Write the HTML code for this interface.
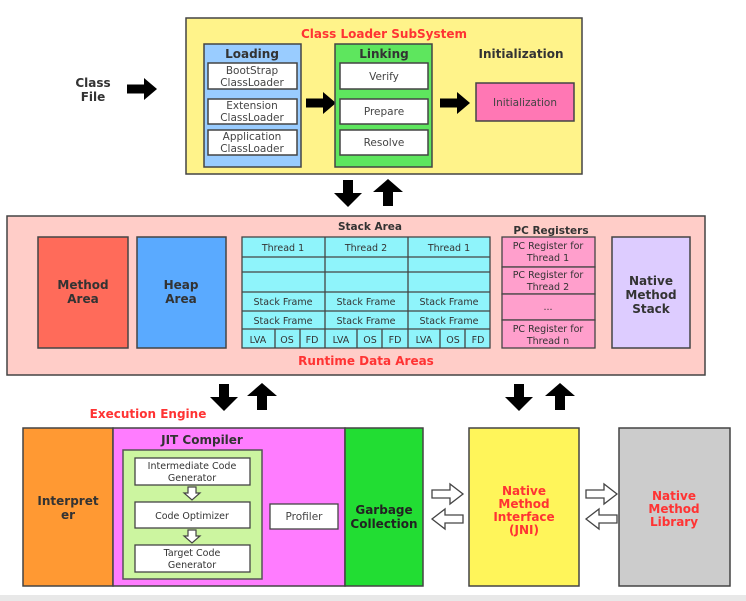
<!DOCTYPE html>
<html><head><meta charset="utf-8"><style>
html,body{margin:0;padding:0;background:#fff;width:746px;height:601px;overflow:hidden}
svg{display:block}
text{font-family:"DejaVu Sans","Liberation Sans",sans-serif;text-anchor:middle}
.b{font-weight:bold;font-size:12px;fill:#333}
.r{font-weight:bold;font-size:12px;fill:#f33}
.n{font-size:10.5px;fill:#444}
.s{font-size:9.5px;fill:#333}
</style></head><body>
<svg width="746" height="601" viewBox="0 0 746 601" xmlns="http://www.w3.org/2000/svg">
<defs>
<g id="ar"><path d="M0,-4.5 H17 V-11 L30,0 L17,11 V4.5 H0 Z" fill="#000"/></g>
<g id="dn"><path d="M-5,0 H5 V13 H14 L0,27 L-14,13 H-5 Z" fill="#000"/></g>
<g id="up"><path d="M-5,27 H5 V13 H15 L0,0 L-15,13 H-5 Z" fill="#000"/></g>
<g id="hr"><path d="M0,-4 H18 V-10 L31,0 L18,10 V4 H0 Z" fill="#fff" stroke="#444" stroke-width="1.3"/></g>
<g id="hd"><path d="M-4,0 H4 V6 H8 L0,13 L-8,6 H-4 Z" fill="#fff" stroke="#444" stroke-width="1.2"/></g>
</defs>
<rect x="0" y="595" width="746" height="6" fill="#e8e8e8"/>

<text class="b" x="93" y="87">Class</text><text class="b" x="93" y="101">File</text>
<use href="#ar" x="127" y="89"/>
<rect x="186" y="18" width="396" height="156" fill="#fff38a" stroke="#444" stroke-width="1.5"/>
<text class="r" x="384" y="38">Class Loader SubSystem</text>
<rect x="204" y="44" width="97" height="123" fill="#99ccff" stroke="#444" stroke-width="1.5"/>
<text class="b" x="252" y="58">Loading</text>
<rect x="208" y="63" width="89" height="26" fill="#fff" stroke="#444" stroke-width="1.5"/>
<text class="n" x="252" y="74">BootStrap</text><text class="n" x="252" y="86">ClassLoader</text>
<rect x="208" y="99" width="89" height="25" fill="#fff" stroke="#444" stroke-width="1.5"/>
<text class="n" x="252" y="109">Extension</text><text class="n" x="252" y="121">ClassLoader</text>
<rect x="208" y="130" width="89" height="25" fill="#fff" stroke="#444" stroke-width="1.5"/>
<text class="n" x="252" y="140">Application</text><text class="n" x="252" y="152">ClassLoader</text>
<use href="#ar" x="306" y="103"/>
<rect x="335" y="44" width="97" height="123" fill="#5ee65e" stroke="#444" stroke-width="1.5"/>
<text class="b" x="384" y="58">Linking</text>
<rect x="340" y="63" width="88" height="26" fill="#fff" stroke="#444" stroke-width="1.5"/><text class="n" x="384" y="80">Verify</text>
<rect x="340" y="99" width="88" height="25" fill="#fff" stroke="#444" stroke-width="1.5"/><text class="n" x="384" y="115">Prepare</text>
<rect x="340" y="130" width="88" height="25" fill="#fff" stroke="#444" stroke-width="1.5"/><text class="n" x="384" y="146">Resolve</text>
<use href="#ar" x="440" y="103"/>
<text class="b" x="521" y="58">Initialization</text>
<rect x="476" y="83" width="98" height="38" fill="#ff77b4" stroke="#444" stroke-width="1.5"/>
<text class="n" x="525" y="106">Initialization</text>

<use href="#dn" x="348" y="180"/><use href="#up" x="388" y="179"/>

<rect x="7" y="216" width="698" height="159" fill="#ffcdc8" stroke="#444" stroke-width="1.5"/>
<text class="b" x="370" y="230" style="font-size:10.5px">Stack Area</text>
<text class="b" x="551" y="234" style="font-size:10.5px">PC Registers</text>
<rect x="38" y="237" width="90" height="111" fill="#ff6b5a" stroke="#444" stroke-width="1.5"/>
<text class="b" x="83" y="289">Method</text><text class="b" x="83" y="303">Area</text>
<rect x="137" y="237" width="89" height="111" fill="#5aaaff" stroke="#444" stroke-width="1.5"/>
<text class="b" x="181" y="289">Heap</text><text class="b" x="181" y="303">Area</text>
<rect x="242" y="237" width="248" height="111" fill="#8ff4fb" stroke="#444" stroke-width="1.3"/>
<g stroke="#444" stroke-width="1.3">
<line x1="325" y1="237" x2="325" y2="348"/><line x1="408" y1="237" x2="408" y2="348"/>
<line x1="242" y1="257" x2="490" y2="257"/><line x1="242" y1="272" x2="490" y2="272"/>
<line x1="242" y1="292" x2="490" y2="292"/><line x1="242" y1="311" x2="490" y2="311"/>
<line x1="242" y1="329" x2="490" y2="329"/>
<line x1="275" y1="329" x2="275" y2="348"/><line x1="300" y1="329" x2="300" y2="348"/>
<line x1="357" y1="329" x2="357" y2="348"/><line x1="382" y1="329" x2="382" y2="348"/>
<line x1="440" y1="329" x2="440" y2="348"/><line x1="465" y1="329" x2="465" y2="348"/>
</g>
<text class="s" x="283" y="251">Thread 1</text><text class="s" x="366" y="251">Thread 2</text><text class="s" x="449" y="251">Thread 1</text>
<text class="s" x="283" y="305">Stack Frame</text><text class="s" x="366" y="305">Stack Frame</text><text class="s" x="449" y="305">Stack Frame</text>
<text class="s" x="283" y="324">Stack Frame</text><text class="s" x="366" y="324">Stack Frame</text><text class="s" x="449" y="324">Stack Frame</text>
<text class="s" x="258" y="343">LVA</text><text class="s" x="287" y="343">OS</text><text class="s" x="312" y="343">FD</text>
<text class="s" x="341" y="343">LVA</text><text class="s" x="370" y="343">OS</text><text class="s" x="395" y="343">FD</text>
<text class="s" x="424" y="343">LVA</text><text class="s" x="453" y="343">OS</text><text class="s" x="478" y="343">FD</text>
<g fill="#ff9fcc" stroke="#444" stroke-width="1.3">
<rect x="502" y="237" width="93" height="30"/><rect x="502" y="267" width="93" height="27"/>
<rect x="502" y="294" width="93" height="26"/><rect x="502" y="320" width="93" height="28"/>
</g>
<text class="s" x="548" y="249">PC Register for</text><text class="s" x="548" y="261">Thread 1</text>
<text class="s" x="548" y="278">PC Register for</text><text class="s" x="548" y="290">Thread 2</text>
<text class="s" x="548" y="310">...</text>
<text class="s" x="548" y="332">PC Register for</text><text class="s" x="548" y="344">Thread n</text>
<rect x="612" y="237" width="78" height="111" fill="#ddccff" stroke="#444" stroke-width="1.5"/>
<text class="b" x="651" y="285">Native</text><text class="b" x="651" y="299">Method</text><text class="b" x="651" y="313">Stack</text>
<text class="r" x="366" y="365">Runtime Data Areas</text>

<use href="#dn" x="224" y="384"/><use href="#up" x="262" y="383"/>
<use href="#dn" x="519" y="384"/><use href="#up" x="560" y="383"/>
<text class="r" x="148" y="418">Execution Engine</text>

<rect x="23" y="428" width="90" height="158" fill="#ff9933" stroke="#444" stroke-width="1.5"/>
<text class="b" x="68" y="505">Interpret</text><text class="b" x="68" y="519">er</text>
<rect x="113" y="428" width="232" height="158" fill="#ff7cff" stroke="#444" stroke-width="1.5"/>
<text class="b" x="202" y="444">JIT Compiler</text>
<rect x="123" y="450" width="139" height="129" fill="#ccf5a0" stroke="#555" stroke-width="1.5"/>
<rect x="135" y="458" width="115" height="27" fill="#fff" stroke="#444" stroke-width="1.3"/>
<text class="s" x="192" y="469">Intermediate Code</text><text class="s" x="192" y="481">Generator</text>
<use href="#hd" x="192" y="487"/>
<rect x="135" y="502" width="115" height="26" fill="#fff" stroke="#444" stroke-width="1.3"/>
<text class="s" x="192" y="519">Code Optimizer</text>
<use href="#hd" x="192" y="530"/>
<rect x="135" y="545" width="115" height="27" fill="#fff" stroke="#444" stroke-width="1.3"/>
<text class="s" x="192" y="556">Target Code</text><text class="s" x="192" y="568">Generator</text>
<rect x="270" y="504" width="68" height="25" fill="#fff" stroke="#444" stroke-width="1.3"/>
<text class="n" x="304" y="520">Profiler</text>
<rect x="345" y="428" width="78" height="158" fill="#22dd33" stroke="#444" stroke-width="1.5"/>
<text class="b" x="384" y="514" style="fill:#222">Garbage</text><text class="b" x="384" y="528" style="fill:#222">Collection</text>
<use href="#hr" x="432" y="494"/>
<use href="#hr" x="432" y="519" transform="rotate(180 447.5 519)"/>
<rect x="469" y="428" width="110" height="158" fill="#fff55a" stroke="#444" stroke-width="1.5"/>
<text class="r" x="524" y="495">Native</text><text class="r" x="524" y="508">Method</text><text class="r" x="524" y="521">Interface</text><text class="r" x="524" y="534">(JNI)</text>
<use href="#hr" x="586" y="494"/>
<use href="#hr" x="586" y="519" transform="rotate(180 601.5 519)"/>
<rect x="619" y="428" width="111" height="158" fill="#cccccc" stroke="#444" stroke-width="1.5"/>
<text class="r" x="674" y="500">Native</text><text class="r" x="674" y="513">Method</text><text class="r" x="674" y="526">Library</text>
</svg>
</body></html>
